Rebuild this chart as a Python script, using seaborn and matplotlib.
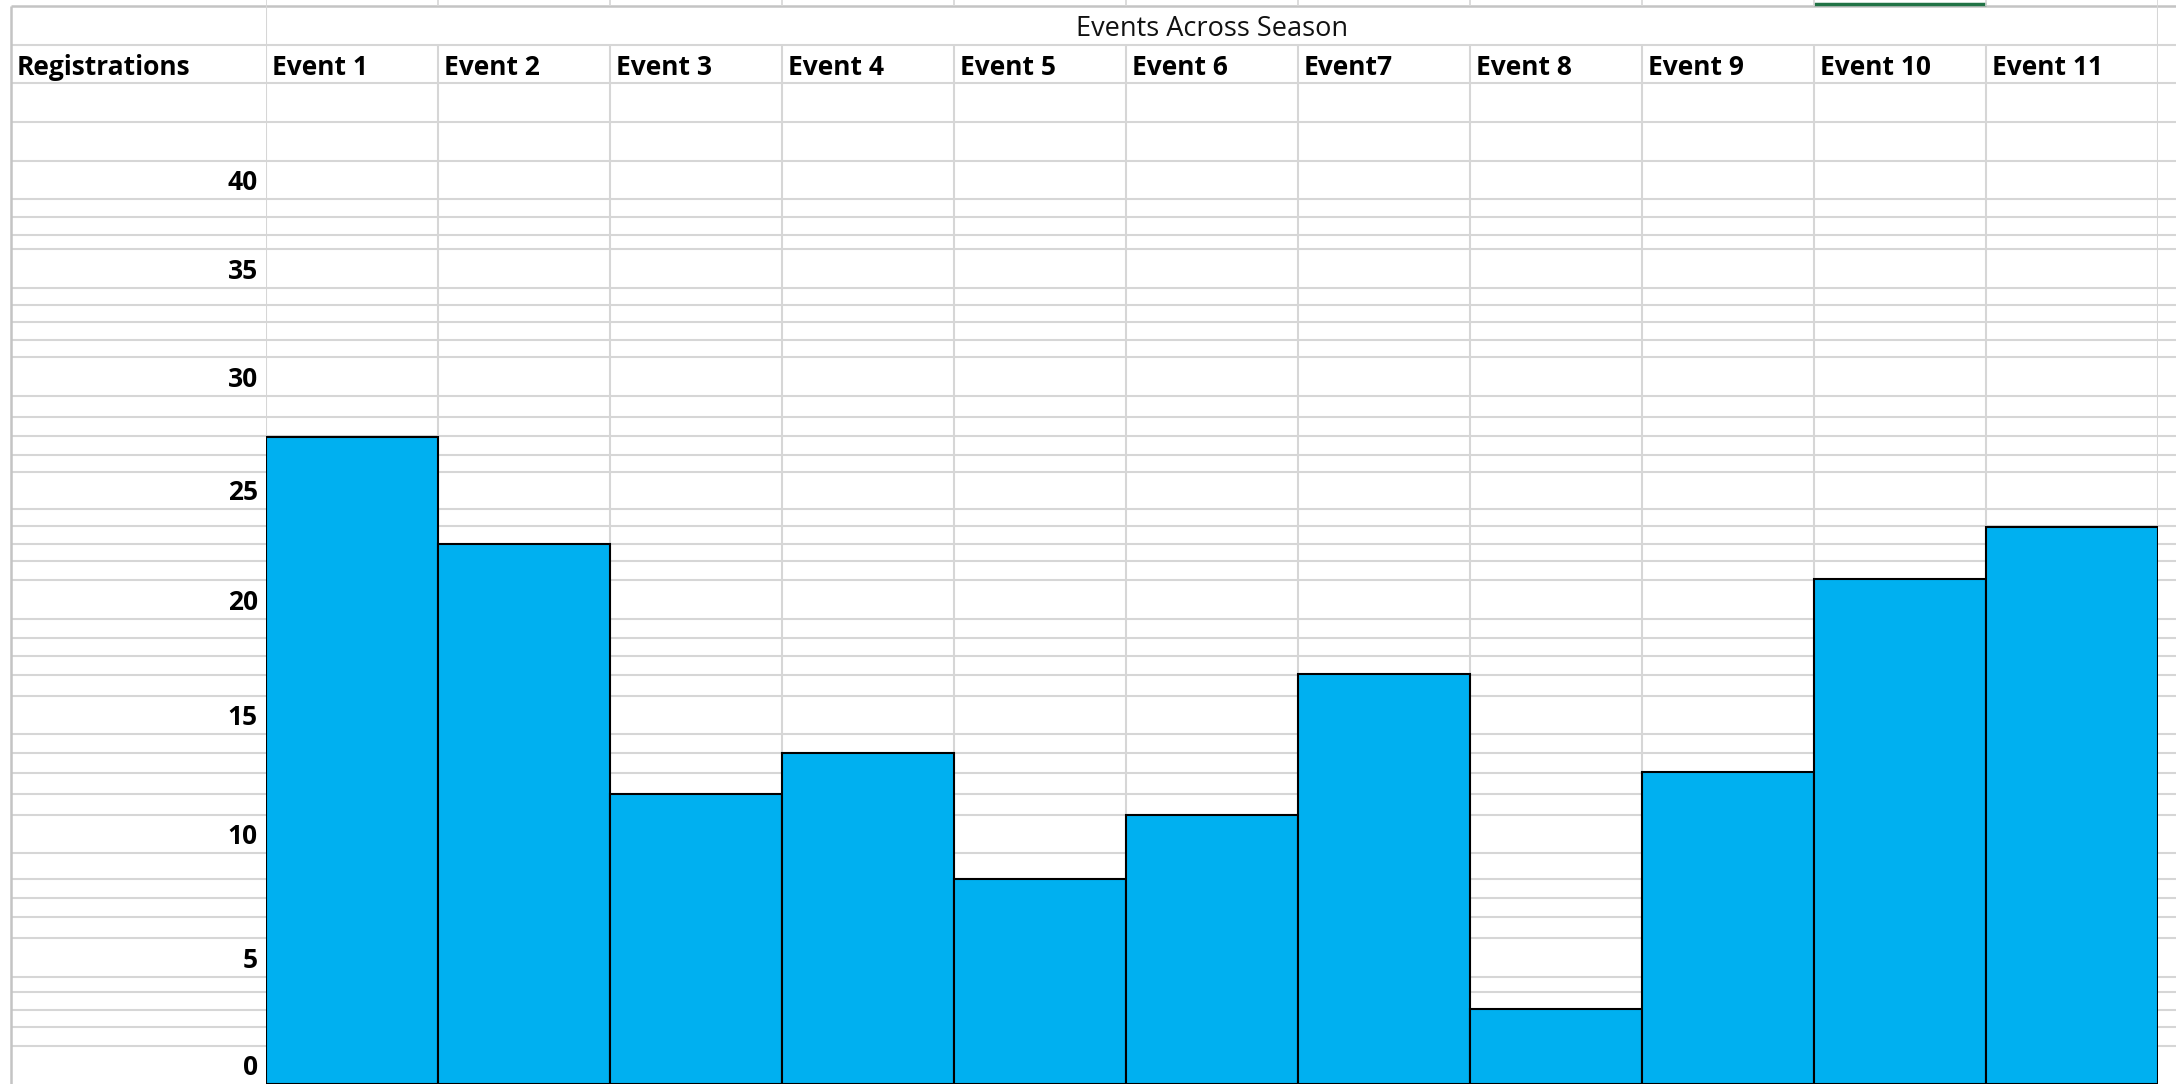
import numpy as np
import matplotlib
matplotlib.use("Agg")
import matplotlib.pyplot as plt
import matplotlib.transforms as mtransforms
import seaborn as sns

# data
events = ["Event 1", "Event 2", "Event 3", "Event 4", "Event 5", "Event 6",
          "Event7", "Event 8", "Event 9", "Event 10", "Event 11"]
registrations = [28.2, 23.4, 12.5, 14.2, 8.95, 11.6, 17.6, 3.5, 13.4, 21.8, 24.2]
tick_values = [0, 5, 10, 15, 20, 25, 30, 35, 40]
title = "Events Across Season"
row_label = "Registrations"

# sheet layout (pixels of the 2176x1084 picture)
W, H = 2176, 1084
col_left, col_right = 266, 2158
# the typed axis labels sit in rows of uneven height, so the value axis is uneven too
tick_row_bottom = [1084, 977, 853, 734, 619, 509, 396, 288, 199]
row_lines = [45, 83, 122, 161, 199, 217, 235, 249, 288, 305, 322, 340, 357, 396,
             417, 436, 455, 472, 509, 526, 544, 561, 580, 619, 638, 656, 675, 696,
             734, 753, 773, 794, 815, 853, 879, 898, 917, 938, 977, 992, 1010,
             1027, 1046]

knot_v = np.array(tick_values + [50, 60], dtype=float)
knot_h = np.array([H - p for p in tick_row_bottom] + [1063, 1241], dtype=float)


def forward(v):
    return np.interp(v, knot_v, knot_h)


def inverse(h):
    return np.interp(h, knot_h, knot_v)


sns.set_style("white")
plt.rcParams["font.family"] = ["Open Sans", "DejaVu Sans"]

fig = plt.figure(figsize=(W / 100, H / 100), dpi=100)
fig.patch.set_facecolor("white")

# background sheet in pixel coords
bg = fig.add_axes([0, 0, 1, 1], zorder=0)
bg.set_xlim(0, W)
bg.set_ylim(H, 0)
bg.axis("off")

grid_c = "#d6d6d6"
bg.hlines(row_lines, 11, W, color=grid_c, lw=1.5)
bg.hlines(6, 11, W, color="#c4c4c4", lw=1.8)
bg.vlines(11, 6, H, color="#c4c4c4", lw=1.8)
bg.hlines(4, 1814, 1986, color="#217346", lw=2.5)

# bar area
ax = fig.add_axes([col_left / W, 0, (col_right - col_left) / W, 1], zorder=1)
ax.patch.set_alpha(0)
ax.set_yscale("function", functions=(forward, inverse))

sns.barplot(x=events, y=registrations, color="#00B0F0", saturation=1,
            width=1, edgecolor="black", linewidth=1.5, ax=ax, zorder=3)
ax.set_xlim(-0.5, len(events) - 0.5)
ax.set_ylim(0, inverse(H))
ax.set_xticks([])
ax.set_yticks([])
ax.set_xlabel("")
ax.set_ylabel("")
for s in ax.spines.values():
    s.set_visible(False)

# column lines of the sheet, aligned with the bar edges
edges = np.arange(len(events) + 1) - 0.5
colx = mtransforms.blended_transform_factory(ax.transData, bg.transData)
ax.vlines(edges[1:-1], 45, H, color=grid_c, lw=1.5, transform=colx, zorder=1)
ax.vlines([edges[0], edges[-1]], 6, H, color=grid_c, lw=1.5, transform=colx, zorder=1)
ax.vlines(edges, 0, 6, color=grid_c, lw=1.2, transform=colx, zorder=1)

# header row
ax.text(0.5, 36, title, transform=mtransforms.blended_transform_factory(
    ax.transAxes, bg.transData), ha="center", va="baseline", fontsize=19.5,
    color="#111111")
bg.text(17, 75, row_label, ha="left", va="baseline", fontsize=19,
        fontweight="bold", color="black")
head = mtransforms.offset_copy(colx, fig=fig, x=6, units="dots")
for i, name in enumerate(events):
    ax.text(i - 0.5, 75, name, transform=head, ha="left", va="baseline",
            fontsize=19, fontweight="bold", color="black")

# typed value labels in the first column
ylab = mtransforms.offset_copy(
    mtransforms.blended_transform_factory(bg.transData, ax.transData),
    fig=fig, y=9, units="dots")
for v in tick_values:
    ax.text(258, v, str(v), transform=ylab, ha="right", va="baseline",
            fontsize=19, fontweight="bold", color="black", clip_on=False)

fig.savefig("out.png", dpi=100)
